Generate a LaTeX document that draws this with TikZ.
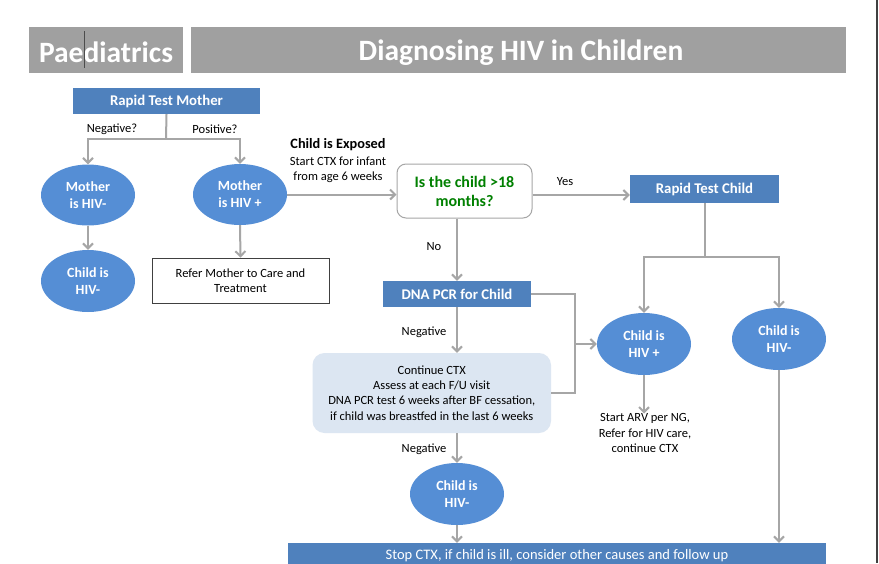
\documentclass[tikz,border=0pt]{standalone}
\usepackage{fontspec}
\setmainfont{Carlito}
\usetikzlibrary{arrows.meta,shapes.geometric}
\definecolor{boxblue}{RGB}{79,129,189}
\definecolor{ellblue}{RGB}{85,142,213}
\definecolor{linegray}{RGB}{166,166,166}
\definecolor{hdrgray}{RGB}{160,160,160}
\definecolor{lightblue}{RGB}{220,230,242}
\definecolor{decgreen}{RGB}{0,128,0}
\begin{document}
\begin{tikzpicture}[x=1pt,y=-1pt,
 hdr/.style={fill=hdrgray, inner sep=0, minimum height=46pt},
 hdrtext/.style={text=white, font=\fontsize{29.5}{33}\selectfont\bfseries, inner sep=0},
 bluebox/.style={fill=boxblue, text=white, font=\fontsize{14.8}{17}\selectfont\bfseries, inner sep=0},
 ell/.style={ellipse, fill=ellblue, text=white, font=\fontsize{14}{17}\selectfont\bfseries, align=center, inner sep=0, minimum width=94pt, minimum height=61pt},
 lbl/.style={font=\fontsize{12.5}{15.2}\selectfont, align=center, inner sep=0},
 conn/.style={draw=linegray, line width=2pt},
 arr/.style={conn, -{Straight Barb[length=5pt,width=10pt,line width=2pt]}}
]
\useasboundingbox (0,0) rectangle (879,563);
\fill[white] (0,0) rectangle (879,563);

% header
\node[hdr, minimum width=154pt] (h1) at (106,50) {};
\node[hdr, minimum width=655pt] (h2) at (518.5,50) {};
\node[hdrtext] (t1) at (106,52.5) {Paediatrics};
\node[hdrtext] (t2) at (521,52.5) {Diagnosing HIV in Children};
\draw[line width=0.7pt, black!70] (84,31) -- (84,68);
\draw[line width=1.5pt, black!75] (877,0) -- (877,563);

% left part
\node[bluebox, minimum width=187pt, minimum height=26pt] (rtm) at (166.5,101) {Rapid Test Mother};
\node[ell] (mneg) at (88,195) {Mother\\is HIV-};
\node[ell] (mpos) at (240,194.5) {Mother\\is HIV +};
\node[ell, minimum height=62pt] (cnegL) at (88,281) {Child is\\HIV-};
\node[draw=black!75, line width=0.8pt, minimum width=177pt, minimum height=45pt, lbl] (refer) at (240.5,280.5) {Refer Mother to Care and\\Treatment};

\coordinate (j1) at (166,139);
\draw[conn] (rtm.south) -- (j1);
\draw[arr] (j1) -| (mneg.north);
\draw[arr] (j1) -| (mpos.north);
\node[lbl] (lneg) at (112,129) {Negative?};
\node[lbl] (lpos) at (215,129) {Positive?};
\draw[arr] (mneg.south) -- (cnegL.north);
\draw[arr] (mpos.south) -- (refer.north);

% decision
\node[draw=linegray, line width=1pt, rounded corners=9pt, minimum width=135pt, minimum height=54pt, inner sep=0,
      text=decgreen, font=\fontsize{16}{19}\selectfont\bfseries, align=center] (dec) at (464.5,191) {Is the child >18\\months?};
\draw[arr] (mpos.east) -- (mpos.east -| dec.west);
\node[font=\fontsize{14.3}{17}\selectfont\bfseries, inner sep=0] (expo) at (338,145) {Child is Exposed};
\node[lbl] (ctx) at (338,169.5) {Start CTX for infant\\from age 6 weeks};

% right part
\node[bluebox, minimum width=149pt, minimum height=28pt] (rtc) at (704.5,189) {Rapid Test Child};
\draw[arr] ([yshift=-4pt]dec.east) -- ([yshift=-4pt]dec.east -| rtc.west);
\node[lbl] (yes) at (565,182) {Yes};

\node[ell, minimum height=62pt] (cpos) at (644,344) {Child is\\HIV +};
\node[ell, minimum height=62pt] (cneg2) at (779,339) {Child is\\HIV-};
\coordinate (j2) at (704.5,257);
\draw[conn] (rtc.south) -- (j2);
\draw[arr] (j2) -| (cpos.north);
\draw[arr] (j2) -| (cneg2.north);

% middle column
\node[bluebox, minimum width=148pt, minimum height=26pt] (dna) at (457,294) {DNA PCR for Child};
\draw[arr] (dec.south -| dna.north) -- (dna.north);
\node[lbl] (no) at (434,247) {No};

\node[fill=lightblue, rounded corners=12pt, minimum width=238.5pt, minimum height=80pt, lbl] (cont) at (431.75,393)
  {Continue CTX\\Assess at each F/U visit\\DNA PCR test 6 weeks after BF cessation,\\if child was breastfed in the last 6 weeks};
\draw[arr] (dna.south) -- (dna.south |- cont.north);
\node[lbl] (neg1) at (424,332) {Negative};

\coordinate (k1) at (575,294);
\coordinate (k2) at (575,393);
\draw[conn] (dna.east) -- (k1) -- (k2) -- (cont.east);
\draw[arr] (k1 |- cpos.west) -- (cpos.west);

\node[lbl] (arv) at (645,433) {Start ARV per NG,\\Refer for HIV care,\\continue CTX};
\draw[arr] (cpos.south) -- (cpos.south |- arv.north);

\node[ell, minimum height=62pt] (cneg3) at (457,494) {Child is\\HIV-};
\draw[arr] (cont.south -| cneg3.north) -- (cneg3.north);
\node[lbl] (neg2) at (424,449) {Negative};

\node[fill=boxblue, text=white, font=\fontsize{14.5}{17}\selectfont, inner sep=0, minimum width=538pt, minimum height=26pt] (bar) at (557,556) {Stop CTX, if child is ill, consider other causes and follow up};
\draw[arr] (cneg3.south) -- (cneg3.south |- bar.north);
\draw[arr] (cneg2.south) -- (cneg2.south |- bar.north);
\end{tikzpicture}
\end{document}
